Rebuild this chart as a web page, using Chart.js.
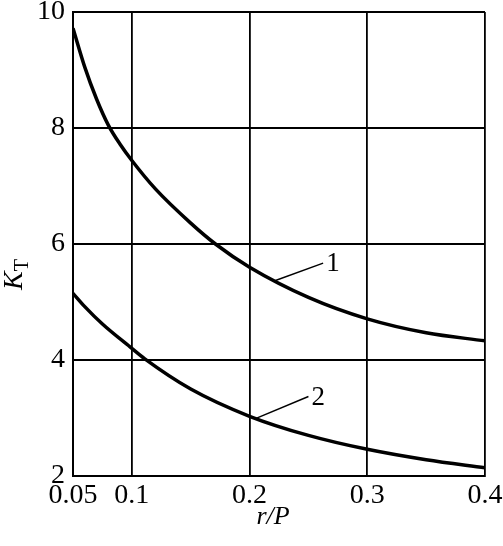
<!DOCTYPE html>
<html>
<head>
<meta charset="utf-8">
<script src="https://cdn.jsdelivr.net/npm/chart.js@4"></script>
<style>
  html, body { margin: 0; padding: 0; background: #fff; }
  #wrap { width: 503px; height: 546px; }
</style>
</head>
<body>
<div id="wrap"><canvas id="ktChart" width="503" height="546"></canvas></div>
<script>
// axis ticks
const xTicks = [0.05, 0.1, 0.2, 0.3, 0.4];
const xTickLabels = ['0.05', '0.1', '0.2', '0.3', '0.4'];
const yTicks = [2, 4, 6, 8, 10];

// curve 1
const rp1 = [0.05, 0.06, 0.07, 0.08, 0.09, 0.1, 0.12, 0.15, 0.171, 0.2, 0.25, 0.3, 0.35, 0.4];
const kt1 = [9.72, 9.05, 8.5, 8.05, 7.72, 7.44, 6.95, 6.36, 6.0, 5.6, 5.08, 4.71, 4.47, 4.33];

// curve 2
const rp2 = [0.05, 0.06, 0.075, 0.1, 0.111, 0.15, 0.2, 0.25, 0.3, 0.35, 0.4];
const kt2 = [5.15, 4.92, 4.62, 4.2, 4.02, 3.5, 3.03, 2.7, 2.46, 2.28, 2.14];

// curve labels with leader lines (data coordinates)
const curveNames = ['1', '2'];
const leaderFrom = [[0.222, 5.37], [0.205, 2.99]];
const leaderTo = [[0.2625, 5.67], [0.25, 3.37]];

const serif = '"Liberation Serif", "Times New Roman", "DejaVu Serif Condensed", serif';

var labelsPlugin = {
  id: 'curveLabels',
  afterDatasetsDraw: function (chart) {
    var ctx = chart.ctx, xs = chart.scales.x, ys = chart.scales.y, area = chart.chartArea;
    ctx.save();
    ctx.strokeStyle = '#000';
    ctx.fillStyle = '#000';
    ctx.lineWidth = 1.5;
    ctx.font = '27px ' + serif;
    ctx.textAlign = 'left';
    ctx.textBaseline = 'middle';
    for (var i = 0; i < curveNames.length; i++) {
      var x0 = xs.getPixelForValue(leaderFrom[i][0]), y0 = ys.getPixelForValue(leaderFrom[i][1]);
      var x1 = xs.getPixelForValue(leaderTo[i][0]), y1 = ys.getPixelForValue(leaderTo[i][1]);
      ctx.beginPath();
      ctx.moveTo(x0, y0);
      ctx.lineTo(x1, y1);
      ctx.stroke();
      ctx.fillText(curveNames[i], x1 + 3, y1 + 1);
    }
    // x axis title
    ctx.font = 'italic 26px ' + serif;
    ctx.textAlign = 'center';
    ctx.fillText('r/P', (area.left + area.right) / 2 - 6, area.bottom + 41);
    // y axis title K_T
    ctx.translate(13, area.top + 270);
    ctx.rotate(-Math.PI / 2);
    ctx.textAlign = 'left';
    ctx.textBaseline = 'alphabetic';
    ctx.font = 'italic 28px ' + serif;
    ctx.fillText('K', -8, 9);
    var kw = ctx.measureText('K').width;
    ctx.font = '20px ' + serif;
    ctx.fillText('T', -8 + kw, 15);
    ctx.restore();
  }
};

function drawChart() {
  return new Chart(document.getElementById('ktChart').getContext('2d'), {
    type: 'scatter',
    data: {
      datasets: [{
        label: '1',
        data: rp1.map(function (x, i) { return { x: x, y: kt1[i] }; }),
        showLine: true,
        borderColor: '#000',
        borderWidth: 3.5,
        pointRadius: 0,
        cubicInterpolationMode: 'monotone'
      }, {
        label: '2',
        data: rp2.map(function (x, i) { return { x: x, y: kt2[i] }; }),
        showLine: true,
        borderColor: '#000',
        borderWidth: 3.5,
        pointRadius: 0,
        cubicInterpolationMode: 'monotone'
      }]
    },
    options: {
      responsive: false,
      animation: false,
      layout: { padding: { top: 12, right: 18, left: 0, bottom: 0 } },
      plugins: { legend: { display: false }, tooltip: { enabled: false } },
      scales: {
        x: {
          type: 'linear',
          min: 0.05,
          max: 0.4,
          afterBuildTicks: function (s) { s.ticks = xTicks.map(function (v) { return { value: v }; }); },
          afterFit: function (s) { s.height = 70; s.paddingLeft = 0; s.paddingRight = 0; },
          ticks: {
            color: '#000',
            padding: 7,
            maxRotation: 0,
            autoSkip: false,
            font: { family: serif, size: 28, lineHeight: 0.9 },
            callback: function (v) { return xTickLabels[xTicks.indexOf(v)]; }
          },
          grid: { color: '#000', lineWidth: 1.8, drawTicks: false },
          border: { color: '#000', width: 2 }
        },
        y: {
          type: 'linear',
          min: 2,
          max: 10,
          afterBuildTicks: function (s) { s.ticks = yTicks.map(function (v) { return { value: v }; }); },
          afterFit: function (s) { s.width = 73; s.paddingTop = 0; s.paddingBottom = 0; },
          ticks: {
            color: '#000',
            padding: 8,
            font: { family: serif, size: 28, lineHeight: 0.9 }
          },
          grid: { color: '#000', lineWidth: 2, drawTicks: false },
          border: { color: '#000', width: 2 }
        }
      }
    },
    plugins: [labelsPlugin]
  });
}

var ktChart;
Promise.all([
  document.fonts.load('28px "Liberation Serif"'),
  document.fonts.load('italic 28px "Liberation Serif"')
]).then(function () { ktChart = drawChart(); }, function () { ktChart = drawChart(); });
</script>
</body>
</html>
